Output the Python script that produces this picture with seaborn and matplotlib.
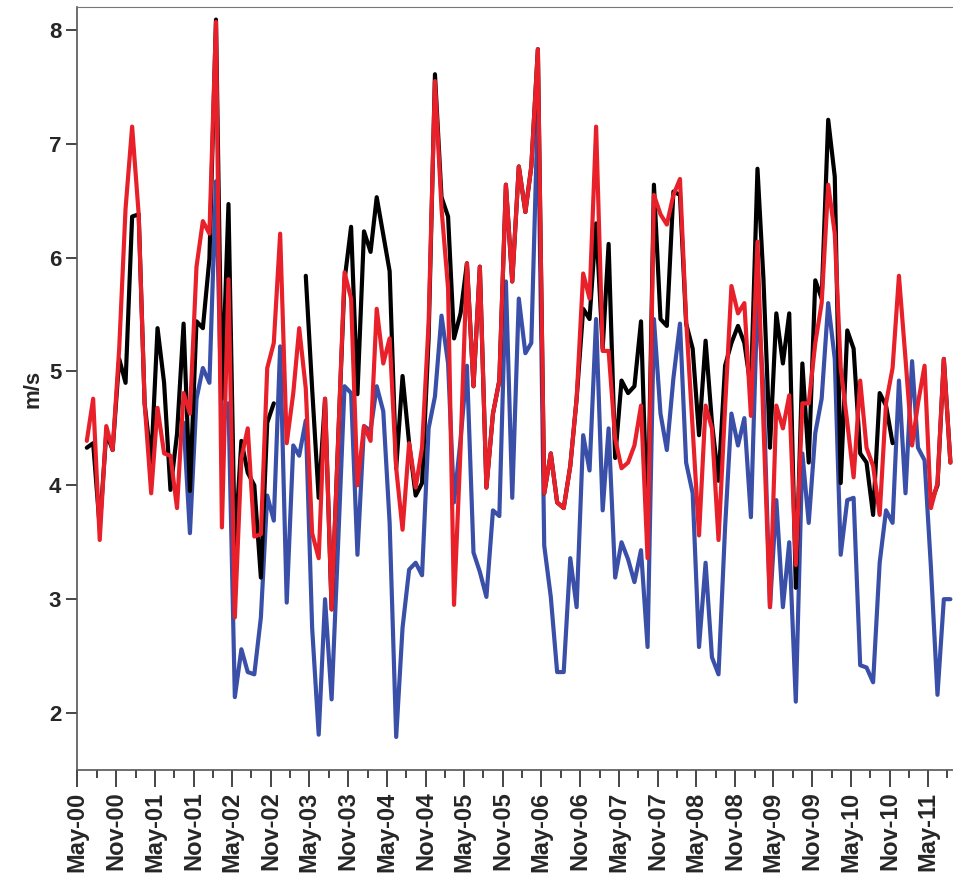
import numpy as np
import pandas as pd
import matplotlib
matplotlib.use("Agg")
import matplotlib.pyplot as plt
import matplotlib.dates as mdates
import seaborn as sns

nan = np.nan

# monthly values, Jun 2000 - Aug 2011
black = [4.33, 4.37, 3.63, 4.46, 4.31, 5.11, 4.9, 6.36, 6.38, 4.72, 4.2, 5.38, 4.9, 3.96, 4.45, 5.42, 3.95, 5.44, 5.38, 5.99, 8.09, 4.76,
         6.47, 3.45, 4.39, 4.11, 4.0, 3.19, 4.55, 4.72, nan, nan, nan, nan, 5.84, 4.85, 3.89, 4.76, 2.91, 4.4, 5.8, 6.27, 4.8, 6.23, 6.05, 6.53,
         6.2, 5.88, 4.15, 4.96, 4.37, 3.91, 4.02, 5.29, 7.61, 6.53, 6.36, 5.29, 5.51, 5.95, 4.87, 5.92, 3.98, 4.63, 4.92, 6.64, 5.79, 6.8, 6.4,
         6.8, 7.83, 3.93, 4.28, 3.85, 3.8, 4.17, 4.76, 5.55, 5.46, 6.3, 5.2, 6.12, 4.24, 4.92, 4.81, 4.87, 5.44, 3.6, 6.64, 5.46, 5.4, 6.58,
         6.55, 5.42, 5.2, 4.44, 5.27, 4.55, 4.04, 5.05, 5.25, 5.4, 5.25, 4.85, 6.78, 5.82, 4.33, 5.51, 5.07, 5.51, 3.1, 5.07,
         4.2, 5.8, 5.64, 7.21, 6.71, 4.02, 5.36, 5.2, 4.28, 4.2, 3.74, 4.81, 4.7, 4.37, nan, nan, nan, nan, nan, 3.85, 4.0, 5.11, 4.2]
red = [4.39, 4.76, 3.52, 4.52, 4.31, 5.2, 6.43, 7.15, 6.38, 4.72, 3.93, 4.68, 4.28, 4.26, 3.8, 4.81, 4.63, 5.92, 6.32, 6.21, 8.07, 3.63,
       5.81, 2.84, 4.24, 4.5, 3.55, 3.57, 5.03, 5.25, 6.21, 4.37, 4.81, 5.38, 4.85, 3.58, 3.36, 4.76, 2.91, 4.4, 5.87, 5.64, 4.0, 4.52, 4.39, 5.55,
       5.07, 5.29, 4.15, 3.61, 4.37, 3.98, 4.33, 5.42, 7.55, 6.43, 5.73, 2.95, 4.33, 5.95, 4.87, 5.92, 3.98, 4.63, 4.92, 6.64, 5.79, 6.8, 6.4,
       6.8, 7.83, 3.93, 4.28, 3.85, 3.8, 4.17, 4.76, 5.86, 5.64, 7.15, 5.18, 5.18, 4.41, 4.15, 4.2, 4.35, 4.7, 3.36, 6.55, 6.38, 6.29, 6.55,
       6.69, 5.46, 4.5, 3.56, 4.7, 4.5, 3.52, 4.68, 5.75, 5.51, 5.6, 4.61, 6.14, 4.55, 2.93, 4.7, 4.5, 4.79, 3.3, 4.72,
       4.72, 5.25, 5.6, 6.64, 6.21, 5.03, 4.55, 4.07, 4.92, 4.33, 4.17, 3.74, 4.72, 5.03, 5.84, 5.11, 4.35, 4.72, 5.05, 3.8, 4.02, 5.11, 4.2]
blue = [nan] * 15 + [4.55, 3.58, 4.76, 5.03, 4.9, 6.67, 4.5,
        4.72, 2.14, 2.56, 2.36, 2.34, 2.84, 3.91, 3.69, 5.22, 2.97, 4.35, 4.26, 4.57, 2.75, 1.81, 3.0, 2.12, 3.5, 4.87, 4.81, 3.39, 4.52, 4.48, 4.87,
        4.65, 3.67, 1.79, 2.75, 3.26, 3.32, 3.21, 4.5, 4.78, 5.49, 5.07, 3.85, 4.4, 5.05, 3.41, 3.24, 3.02, 3.78, 3.73, 5.79, 3.89, 5.64, 5.16,
        5.25, 7.34, 3.47, 3.02, 2.36, 2.36, 3.36, 2.93, 4.44, 4.13, 5.46, 3.78, 4.5, 3.19, 3.5, 3.35, 3.15, 3.43, 2.58, 5.46, 4.63, 4.31, 4.94,
        5.42, 4.2, 3.93, 2.58, 3.32, 2.49, 2.34, 3.63, 4.63, 4.35, 4.59, 3.72, 5.66, 4.85, 2.93, 3.87, 2.93, 3.5, 2.1, 4.28,
        3.67, 4.46, 4.76, 5.6, 5.11, 3.39, 3.87, 3.89, 2.42, 2.4, 2.27, 3.32, 3.78, 3.67, 4.92, 3.93, 5.09, 4.33, 4.22, 3.28, 2.16, 3.0, 3.0]

dates = pd.date_range("2000-06-01", periods=len(red), freq="MS") + pd.Timedelta(days=14)


def frame(vals):
    df = pd.DataFrame({"date": dates, "val": vals})
    df["seg"] = df["val"].isna().cumsum()
    return df.dropna()


sns.set_style("ticks")
plt.rcParams["font.family"] = ["Liberation Sans", "DejaVu Sans"]
plt.rcParams["font.weight"] = "bold"

fig = plt.figure(figsize=(9.54, 8.82), dpi=100)
ax = fig.add_axes([0.081, 0.127, 0.919, 0.865])

for vals, col in [(blue, "#3a4fa8"), (black, "black"), (red, "#e8202a")]:
    sns.lineplot(data=frame(vals), x="date", y="val", units="seg", estimator=None,
                 color=col, linewidth=3.0, ax=ax)

ax.set_xlim(pd.Timestamp("2000-05-01"), pd.Timestamp("2011-09-01"))
ax.set_ylim(1.5, 8.2)
ax.set_yticks([2, 3, 4, 5, 6, 7, 8])
ax.xaxis.set_major_locator(mdates.MonthLocator(bymonth=(5, 11)))
ax.xaxis.set_minor_locator(mdates.MonthLocator(bymonth=(2, 5, 8, 11)))
ax.xaxis.set_major_formatter(mdates.DateFormatter("%b-%y"))
ax.tick_params(axis="x", which="major", length=12, width=1.2, rotation=90, labelsize=17)
ax.tick_params(axis="x", which="minor", length=6, width=1.2)
ax.tick_params(axis="y", length=8, width=1.2, labelsize=16)
for lab in ax.get_xticklabels() + ax.get_yticklabels():
    lab.set_fontweight("bold")
ax.set_xlabel("")
ax.set_ylabel("m/s", fontsize=16, fontweight="bold")
ax.spines["right"].set_visible(False)
ax.spines["top"].set_color("#777777")
for s in ["left", "bottom"]:
    ax.spines[s].set_color("#555555")
    ax.spines[s].set_linewidth(1.2)

fig.savefig("out.png", dpi=100)
